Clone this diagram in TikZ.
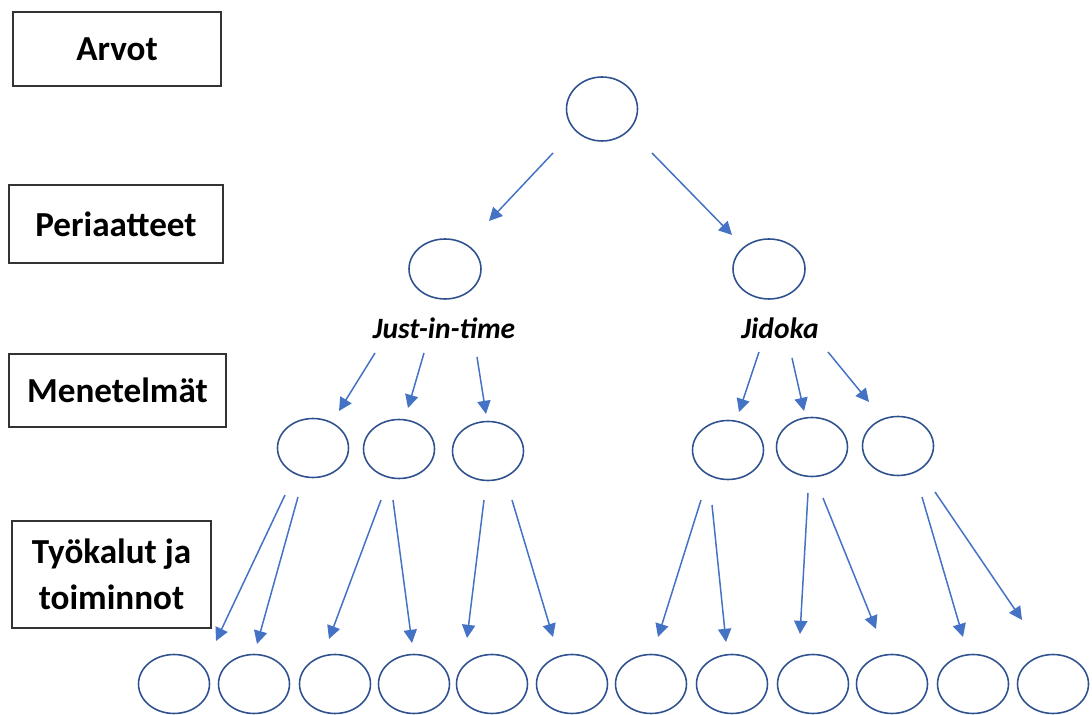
\documentclass[tikz,border=0pt]{standalone}
\usepackage{fontspec}
\setmainfont{Carlito}
\usetikzlibrary{shapes.geometric,arrows.meta}
\definecolor{ringblue}{HTML}{2F528F}
\definecolor{arrowblue}{HTML}{4472C4}
\begin{document}
\begin{tikzpicture}[x=0.02cm,y=-0.02cm,
  levelbox/.style={draw=black!80,line width=0.9pt,inner sep=0pt,align=center,
    font=\fontsize{20}{26.5}\selectfont\bfseries},
  ring/.style={draw=ringblue,ellipse,line width=0.9pt,minimum width=1.42cm,minimum height=1.18cm,inner sep=0pt},
  flow/.style={draw=arrowblue,line width=0.85pt,-{Triangle[length=7.5pt,width=7.5pt]}},
  branchlabel/.style={font=\fontsize{16.8}{20}\selectfont\bfseries\itshape}]
\useasboundingbox (0,0) rectangle (1092,715);

% level labels on the left
\node[levelbox,minimum width=4.16cm,minimum height=1.48cm] (arvot) at (117,49) {Arvot};
\node[levelbox,minimum width=4.28cm,minimum height=1.56cm] (periaatteet) at (116,224) {Periaatteet};
\node[levelbox,minimum width=4.34cm,minimum height=1.46cm] (menetelmat) at (117.5,390.5) {Menetelmät};
\node[levelbox,minimum width=3.98cm,minimum height=2.14cm] (tyokalut) at (111.5,574.5) {Työkalut ja\\toiminnot};

% hierarchy of circles
\node[ring,minimum height=1.28cm] (top) at (602,109) {};
\node[ring,minimum width=1.44cm,minimum height=1.2cm] (jit) at (445,269) {};
\node[ring,minimum width=1.44cm,minimum height=1.2cm] (jid) at (769,269) {};
\node[branchlabel] (jitlabel) at (444,328) {Just-in-time};
\node[branchlabel] (jidlabel) at (780,328) {Jidoka};

\foreach \n/\x/\y in {m1/313/448, m2/399/449, m3/488/451, m4/728/450, m5/812/447, m6/898/446}
  \node[ring] (\n) at (\x,\y) {};

\foreach \n/\x in {t1/174, t2/254, t3/335, t4/414, t5/492, t6/572, t7/651, t8/732, t9/813, t10/892, t11/973, t12/1053}
  \node[ring] (\n) at (\x,684) {};

% connector end points
\foreach \n/\x/\y in {
  s1/553/153, e1/489/221, s2/652/153, e2/732/235,
  s3/375/353, e3/339/411, s4/424/353, e4/408/408, s5/477/357, e5/486/414,
  s6/759/352, e6/739/412, s7/792/358, e7/804/411, s8/828/352, e8/869/402,
  s9/285/495, e9/216/641, s10/298/497, e10/257/644,
  s11/381/500, e11/329/639, s12/393/500, e12/412/643,
  s13/484/500, e13/467/638, s14/512/500, e14/553/637,
  s15/701/500, e15/658/637, s16/712/505, e16/726/642,
  s17/808/493, e17/800/634, s18/823/498, e18/876/629,
  s19/922/497, e19/963/637, s20/935/492, e20/1022/620}
  \coordinate (\n) at (\x,\y);

\foreach \i in {1,...,20}
  \draw[flow] (s\i) -- (e\i);
\end{tikzpicture}
\end{document}
